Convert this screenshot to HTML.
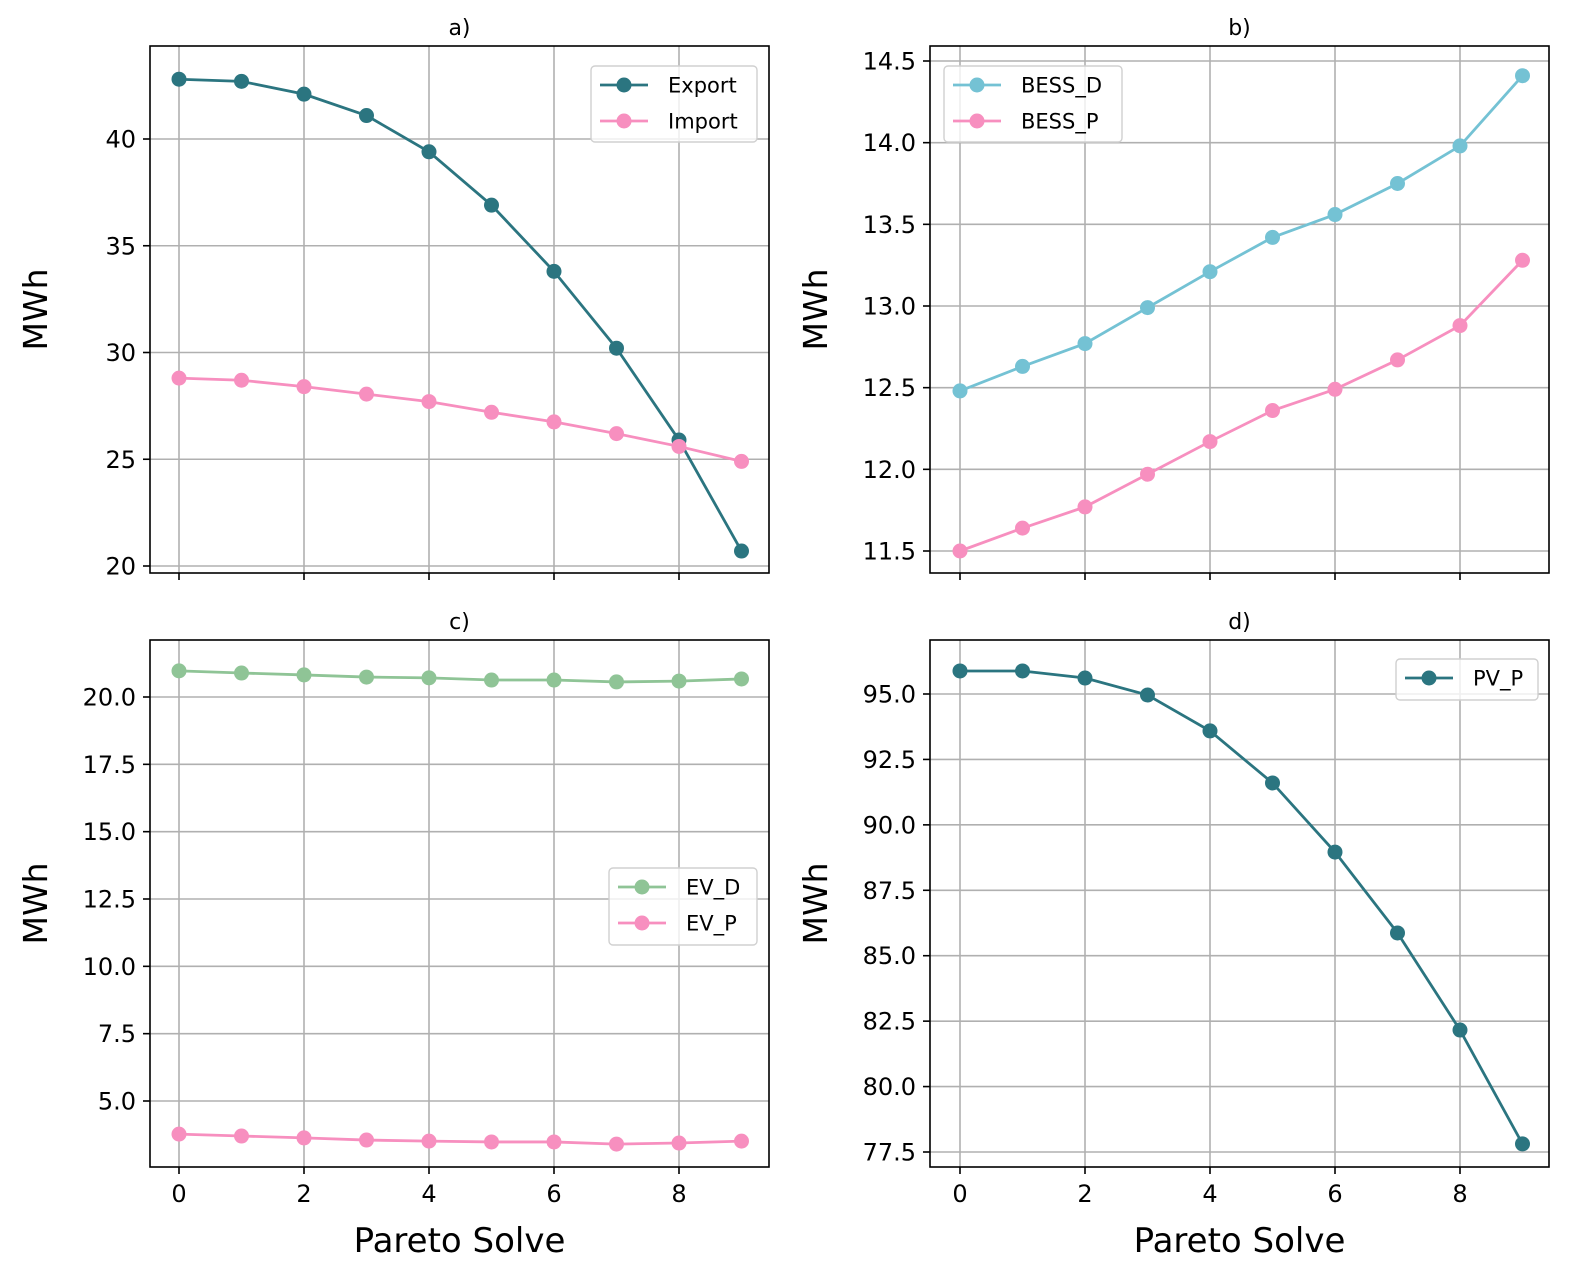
<!DOCTYPE html>
<html><head><meta charset="utf-8"><style>
body{margin:0;background:#fff}
svg{display:block;font-family:"DejaVu Sans","Liberation Sans",sans-serif}
</style></head><body>
<svg id="fig" width="1578" height="1287" viewBox="0 0 1578 1287" xmlns="http://www.w3.org/2000/svg"></svg>
<script>
const xCats=[0,1,2,3,4,5,6,7,8,9];
const xTicks=[0,2,4,6,8];
const exportVals=[42.8,42.7,42.1,41.1,39.4,36.9,33.8,30.2,25.9,20.7];
const importVals=[28.8,28.7,28.4,28.05,27.7,27.2,26.75,26.2,25.6,24.9];
const bessD=[12.48,12.63,12.77,12.99,13.21,13.42,13.56,13.75,13.98,14.41];
const bessP=[11.50,11.64,11.77,11.97,12.17,12.36,12.49,12.67,12.88,13.28];
const evD=[20.97,20.89,20.82,20.74,20.71,20.63,20.63,20.56,20.59,20.67];
const evP=[3.77,3.70,3.63,3.55,3.51,3.48,3.48,3.40,3.44,3.51];
const pvP=[95.88,95.88,95.61,94.96,93.59,91.60,88.96,85.87,82.16,77.81];
const ticksA=[20,25,30,35,40];
const ticksB=[11.5,12.0,12.5,13.0,13.5,14.0,14.5];
const ticksC=[5.0,7.5,10.0,12.5,15.0,17.5,20.0];
const ticksD=[77.5,80.0,82.5,85.0,87.5,90.0,92.5,95.0];

const NS="http://www.w3.org/2000/svg";
const svg=document.getElementById('fig');
function mk(tag,attrs,parent,text){const e=document.createElementNS(NS,tag);for(const k in attrs)e.setAttribute(k,attrs[k]);if(text!==undefined)e.textContent=text;(parent||svg).appendChild(e);return e;}
const TEAL="#2b7580",PINK="#f78fbf",BLUE="#74c2d4",GREEN="#8fc496";

function panel(o){
  const g=mk('g',{});
  
  
  const xs=v=>o.x0+62.5*v;
  const ys=v=>o.p1+(v-o.v1)*(o.p2-o.p1)/(o.v2-o.v1);
  xTicks.forEach(t=>{
    const l=mk('line',{x1:xs(t),x2:xs(t),y1:o.top,y2:o.bot,stroke:"#b0b0b0","stroke-width":1.6},g);
    
    mk('line',{x1:xs(t),x2:xs(t),y1:o.bot,y2:o.bot+7,stroke:"#000","stroke-width":1.6},g);
    if(o.xlabels){const tx=mk('text',{x:xs(t),y:o.bot+35,"text-anchor":"middle","font-size":24},g,String(t));
      }
  });
  o.yticks.forEach(t=>{
    const y=ys(t);
    const l=mk('line',{x1:o.left,x2:o.right,y1:y,y2:y,stroke:"#b0b0b0","stroke-width":1.6},g);
    
    mk('line',{x1:o.left-7,x2:o.left,y1:y,y2:y,stroke:"#000","stroke-width":1.6},g);
    const tx=mk('text',{x:o.left-14,y:y+8.5,"text-anchor":"end","font-size":24},g,o.fmt(t));
    
  });
  o.series.forEach(s=>{
    const pts=xCats.map((c,i)=>xs(c)+","+ys(s.vals[i])).join(" ");
    const pl=mk('polyline',{points:pts,fill:"none",stroke:s.color,"stroke-width":2.8},g);
    
    xCats.forEach((c,i)=>{const m=mk('circle',{cx:xs(c),cy:ys(s.vals[i]),r:7.5,fill:s.color},g);
      });
  });
  const fr=mk('rect',{x:o.left,y:o.top,width:o.right-o.left,height:o.bot-o.top,fill:"none",stroke:"#000","stroke-width":1.6},g);
  
  const ti=mk('text',{x:(o.left+o.right)/2,y:o.top-11,"text-anchor":"middle","font-size":22},g,o.title);
  
  const yl=mk('text',{x:0,y:0,"text-anchor":"middle","font-size":33,transform:`translate(${o.left-103},${(o.top+o.bot)/2}) rotate(-90)`},g,"MWh");
  
  if(o.xlabels){const xl=mk('text',{x:(o.left+o.right)/2,y:o.bot+85,"text-anchor":"middle","font-size":34},g,"Pareto Solve");
    }
  const L=o.legend;
  const lg=mk('g',{},g);
  mk('rect',{x:L.x,y:L.y,width:L.w,height:L.h,rx:4,fill:"#fff","fill-opacity":0.8,stroke:"#d0d0d0","stroke-width":1.4},lg);
  o.series.forEach((s,i)=>{
    const cy=L.y+19+i*36;
    const e=mk('g',{},lg);
    mk('line',{x1:L.x+9,x2:L.x+57,y1:cy,y2:cy,stroke:s.color,"stroke-width":2.8},e);
    mk('circle',{cx:L.x+33,cy:cy,r:7.5,fill:s.color},e);
    mk('text',{x:L.x+77,y:cy+7.5,"font-size":21},e,s.label);
  });
}
const f1=v=>v.toFixed(1), f0=v=>String(v);
panel({name:'panel-a',title:'a)',left:150,right:769,top:46,bot:573,x0:179,v1:40,p1:139,v2:20,p2:566,yticks:ticksA,fmt:f0,xlabels:false,
  series:[{key:'export',label:'Export',vals:exportVals,color:TEAL},{key:'import',label:'Import',vals:importVals,color:PINK}],
  legend:{x:591,y:66,w:166,h:76}});
panel({name:'panel-b',title:'b)',left:930,right:1549,top:46,bot:573,x0:960,v1:14.5,p1:61,v2:11.5,p2:551,yticks:ticksB,fmt:f1,xlabels:false,
  series:[{key:'bess-d',label:'BESS_D',vals:bessD,color:BLUE},{key:'bess-p',label:'BESS_P',vals:bessP,color:PINK}],
  legend:{x:944,y:66,w:178,h:76}});
panel({name:'panel-c',title:'c)',left:150,right:769,top:640,bot:1167,x0:179,v1:20,p1:697,v2:5,p2:1101,yticks:ticksC,fmt:f1,xlabels:true,
  series:[{key:'ev-d',label:'EV_D',vals:evD,color:GREEN},{key:'ev-p',label:'EV_P',vals:evP,color:PINK}],
  legend:{x:609,y:868,w:148,h:77}});
panel({name:'panel-d',title:'d)',left:930,right:1549,top:640,bot:1167,x0:960,v1:95,p1:694,v2:77.5,p2:1152,yticks:ticksD,fmt:f1,xlabels:true,
  series:[{key:'pv-p',label:'PV_P',vals:pvP,color:TEAL}],
  legend:{x:1396,y:659,w:142,h:41}});
</script>
</body></html>
